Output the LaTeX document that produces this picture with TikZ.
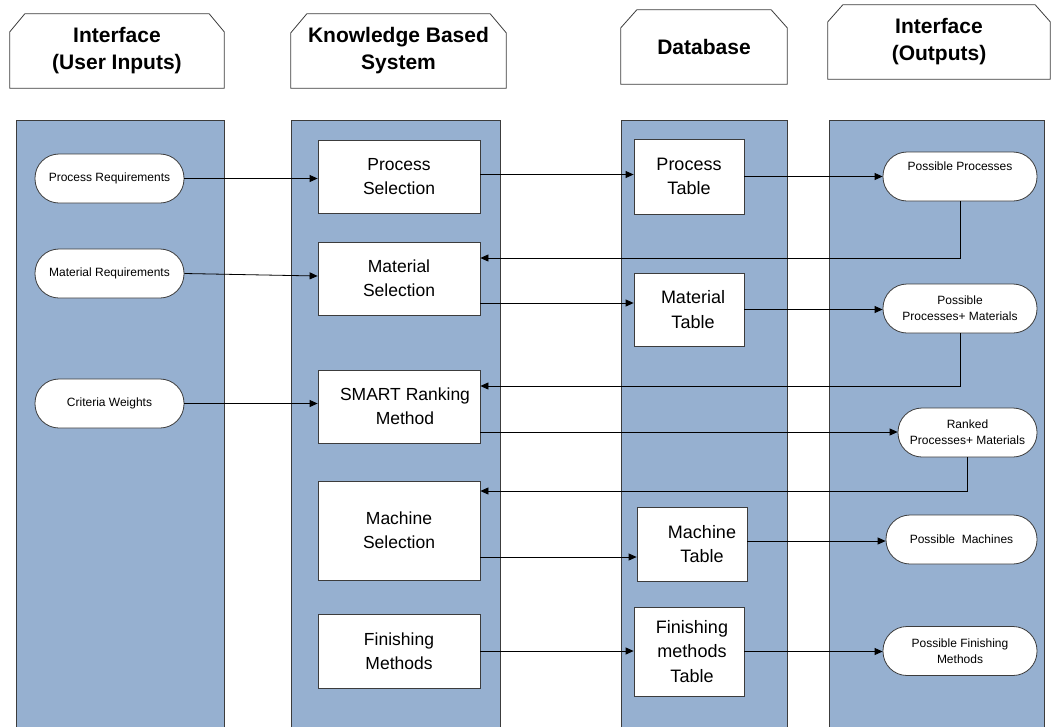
\documentclass[tikz,border=0pt]{standalone}
\usepackage{fontspec}
\setmainfont{Liberation Sans}
\usetikzlibrary{arrows.meta,calc}
\definecolor{lane}{RGB}{150,176,208}
\definecolor{edge}{RGB}{60,60,60}
\newcommand\chamferhdr[3]{\draw[hdrline] ([yshift=-#3pt]#1.north west) -- ([xshift=#2pt]#1.north west) -- ([xshift=-#2pt]#1.north east) -- ([yshift=-#3pt]#1.north east) -- (#1.south east) -- (#1.south west) -- cycle;}
\begin{document}
\begin{tikzpicture}[x=1pt,y=-1pt,
 lanebox/.style={fill=lane,draw=edge,line width=0.8pt},
 hdrline/.style={draw=edge,line width=0.8pt},
 hdr/.style={align=center,font=\fontsize{21}{27}\selectfont\bfseries,inner sep=0pt,minimum height=74pt},
 kbox/.style={draw=edge,fill=white,line width=0.8pt,align=center,font=\fontsize{17.5}{24}\selectfont,minimum width=162pt,inner sep=0pt},
 dbox/.style={draw=edge,fill=white,line width=0.8pt,align=center,font=\fontsize{18}{24.5}\selectfont,minimum width=110pt,inner sep=0pt},
 pill/.style={draw=edge,fill=white,line width=0.8pt,rounded corners=24pt,align=center,font=\fontsize{12}{16}\selectfont,minimum height=49pt,inner sep=0pt},
 conn/.style={line width=0.8pt,draw=black,-{Triangle[length=8pt,width=7pt]}},
]
\useasboundingbox (0,0) rectangle (1051,726);
% lanes
\path[lanebox] (16,120) rectangle (224,732);
\path[lanebox] (291,120) rectangle (500,732);
\path[lanebox] (621,120) rectangle (787,732);
\path[lanebox] (829,120) rectangle (1044,732);
% headers
\node[hdr,minimum width=214pt] (h1) at (117,51) {Interface\\(User Inputs)};
\node[hdr,minimum width=215pt] (h2) at (398.5,51) {Knowledge Based\\System};
\node[hdr,minimum width=166pt] (h3) at (704,47) {Database};
\node[hdr,minimum width=222pt] (h4) at (939,42) {Interface\\(Outputs)};
\chamferhdr{h1}{15}{18}
\chamferhdr{h2}{16}{19}
\chamferhdr{h3}{16}{18}
\chamferhdr{h4}{15}{17}
% lane 1
\node[pill,minimum width=149pt] (preq) at (109.5,178.5) {Process Requirements};
\node[pill,minimum width=149pt] (mreq) at (109.5,273.5) {Material Requirements};
\node[pill,minimum width=149pt] (crit) at (109.5,403.5) {Criteria Weights};
% lane 2
\node[kbox,minimum height=73pt] (psel) at (399,176.5) {Process\\Selection};
\node[kbox,minimum height=73pt] (msel) at (399,278.5) {Material\\Selection};
\node[kbox,minimum height=73pt] (smart) at (399,406.5) {\hspace*{12pt}SMART Ranking\\\hspace*{12pt}Method};
\node[kbox,minimum height=99pt] (mach) at (399,530.5) {Machine\\Selection};
\node[kbox,minimum height=74pt] (fin) at (399,651) {Finishing\\Methods};
% lane 3
\node[dbox,minimum height=75pt] (ptab) at (689,176.5) {Process\\Table};
\node[dbox,minimum height=73pt] (mtab) at (689,309.5) {\hspace*{8pt}Material\\\hspace*{8pt}Table};
\node[dbox,minimum height=74pt] (mctab) at (692,544) {\hspace*{20pt}Machine\\\hspace*{20pt}Table};
\node[dbox,minimum height=89pt] (ftab) at (689,651.5) {\hspace*{6pt}Finishing\\\hspace*{6pt}methods\\\hspace*{6pt}Table};
% lane 4
\node[pill,minimum width=154pt] (pp) at (960,176.5) {Possible Processes\\\strut};
\node[pill,minimum width=154pt] (ppm) at (960,308.5) {Possible\\Processes+ Materials};
\node[pill,minimum width=139pt] (rpm) at (967.5,432.5) {Ranked\\Processes+ Materials};
\node[pill,minimum width=151pt] (pm) at (961.5,539.5) {Possible\ \ Machines};
\node[pill,minimum width=154pt] (pf) at (960,651) {Possible Finishing\\Methods};
% connectors: inputs to KBS
\draw[conn] (preq.east) -- (preq.east -| psel.west);
\draw[conn] (mreq.east) -- ([yshift=2.5pt]msel.west);
\draw[conn] (crit.east) -- (crit.east -| smart.west);
% KBS to database
\draw[conn] ([yshift=2pt]psel.east) -- ([yshift=2pt]psel.east -| ptab.west);
\draw[conn] ([yshift=-24.5pt]msel.east) -- ([yshift=-24.5pt]msel.east -| mtab.west);
\draw[conn] ([yshift=-26.5pt]mach.east) -- ([yshift=-26.5pt]mach.east -| mctab.west);
\draw[conn] (fin.east) -- (fin.east -| ftab.west);
% database to outputs
\draw[conn] (ptab.east) -- (ptab.east -| pp.west);
\draw[conn] (mtab.east) -- (mtab.east -| ppm.west);
\draw[conn] ([yshift=-25.5pt]smart.east) -- ([yshift=-25.5pt]smart.east -| rpm.west);
\draw[conn] ([yshift=3pt]mctab.east) -- ([yshift=3pt]mctab.east -| pm.west);
\draw[conn] (ftab.east) -- (ftab.east -| pf.west);
% feedback
\draw[conn] (pp.south) |- ([yshift=20.5pt]msel.east);
\draw[conn] (ppm.south) |- ([yshift=20.5pt]smart.east);
\draw[conn] (rpm.south) |- ([yshift=39.5pt]mach.east);
\end{tikzpicture}
\end{document}
